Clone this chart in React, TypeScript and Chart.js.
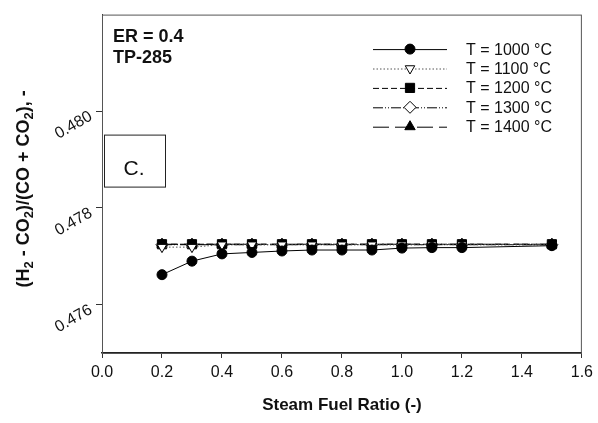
import React, { useEffect, useRef } from "react";
import { Chart, registerables } from "chart.js";
import { drawPoint } from "chart.js/helpers";

Chart.register(...registerables);

const steamFuelRatio = [0.2, 0.3, 0.4, 0.5, 0.6, 0.7, 0.8, 0.9, 1.0, 1.1, 1.2, 1.5];
const t1000 = [0.47662, 0.4769, 0.47705, 0.47708, 0.47711, 0.47713, 0.47713, 0.47713, 0.47717, 0.47718, 0.47718, 0.47722];
const t1100 = [0.47719, 0.47719, 0.47724, 0.47724, 0.47724, 0.47724, 0.47724, 0.47724, 0.47724, 0.47724, 0.47724, 0.47724];
const t1200 = [0.47725, 0.47725, 0.47725, 0.47725, 0.47725, 0.47725, 0.47725, 0.47725, 0.47725, 0.47725, 0.47725, 0.47725];
const t1300 = [0.47724, 0.47724, 0.47724, 0.47724, 0.47724, 0.47724, 0.47724, 0.47724, 0.47724, 0.47724, 0.47724, 0.47724];
const t1400 = [0.47725, 0.47725, 0.47725, 0.47725, 0.47725, 0.47725, 0.47725, 0.47725, 0.47725, 0.47725, 0.47725, 0.47725];
const seriesLabels = ["T = 1000 °C", "T = 1100 °C", "T = 1200 °C", "T = 1300 °C", "T = 1400 °C"];
const xTicks = [0, 0.2, 0.4, 0.6, 0.8, 1.0, 1.2, 1.4, 1.6];
const yTicks = [0.476, 0.478, 0.48];
const xTitle = "Steam Fuel Ratio (-)";
const yTitleParts: [string, boolean][] = [["(H", false], ["2", true], [" - CO", false], ["2", true], [")/(CO + CO", false], ["2", true], ["), -", false]];
const noteLines = ["ER = 0.4", "TP-285"];
const panelLabel = "C.";

const FONT = '"Liberation Sans", Arial, sans-serif';

const toXY = (ys: number[]) => ys.map((y, i) => ({ x: steamFuelRatio[i], y }));

const decorPlugin = {
  id: "decor",
  afterDatasetsDraw(chart: any) {
    const ctx = chart.ctx;
    const a = chart.chartArea;
    ctx.save();
    // frame
    ctx.strokeStyle = "#555";
    ctx.lineWidth = 1;
    ctx.strokeRect(a.left + 0.5, a.top + 0.5, a.right - a.left - 1, a.bottom - a.top);

    // notes
    ctx.fillStyle = "#111";
    ctx.font = `bold 18px ${FONT}`;
    ctx.textAlign = "left";
    ctx.textBaseline = "alphabetic";
    noteLines.forEach((t, i) => ctx.fillText(t, a.left + 11, a.top + 27 + i * 21.5));

    // panel label box
    ctx.fillStyle = "#fff";
    ctx.fillRect(a.left + 2, a.top + 120, 62, 53);
    ctx.strokeStyle = "#222";
    ctx.strokeRect(a.left + 2.5, a.top + 120.5, 61, 52);
    ctx.fillStyle = "#111";
    ctx.font = `21px ${FONT}`;
    ctx.textAlign = "center";
    ctx.textBaseline = "middle";
    ctx.fillText(panelLabel, a.left + 32, a.top + 155);

    // legend
    const ds = chart.data.datasets;
    ds.forEach((d: any, i: number) => {
      const y = a.top + 34.5 + i * 19.4;
      const x0 = a.left + 271, x1 = a.left + 345, xm = a.left + 308;
      ctx.save();
      ctx.strokeStyle = d.borderColor;
      ctx.lineWidth = d.borderWidth;
      ctx.setLineDash(d.borderDash || []);
      ctx.beginPath();
      ctx.moveTo(x0, y + 0.5);
      ctx.lineTo(x1, y + 0.5);
      ctx.stroke();
      ctx.restore();
      ctx.save();
      ctx.fillStyle = d.pointBackgroundColor;
      ctx.strokeStyle = d.pointBorderColor;
      ctx.lineWidth = 1;
      drawPoint(ctx, { pointStyle: d.pointStyle, radius: d.pointRadius, rotation: d.pointRotation || 0, borderWidth: 1 } as any, xm, y);
      ctx.restore();
      ctx.fillStyle = "#111";
      ctx.font = `16px ${FONT}`;
      ctx.textAlign = "left";
      ctx.textBaseline = "middle";
      ctx.fillText(seriesLabels[i], a.left + 364, y + 1);
    });

    // x title
    ctx.fillStyle = "#111";
    ctx.font = `bold 17px ${FONT}`;
    ctx.textAlign = "center";
    ctx.textBaseline = "middle";
    ctx.fillText(xTitle, (a.left + a.right) / 2, 405);

    // y title with subscripts
    const mainF = `bold 18px ${FONT}`;
    const subF = `bold 13px ${FONT}`;
    let total = 0;
    const widths = yTitleParts.map(([t, sub]) => {
      ctx.font = sub ? subF : mainF;
      const w = ctx.measureText(t).width;
      total += w;
      return w;
    });
    ctx.save();
    ctx.translate(24, (a.top + a.bottom) / 2 + 5);
    ctx.rotate(-Math.PI / 2);
    ctx.textAlign = "left";
    ctx.textBaseline = "middle";
    let cx = -total / 2;
    yTitleParts.forEach(([t, sub], i) => {
      ctx.font = sub ? subF : mainF;
      ctx.fillText(t, cx, sub ? 5 : 0);
      cx += widths[i];
    });
    ctx.restore();
    ctx.restore();
  },
};

export default function App() {
  const ref = useRef<HTMLCanvasElement | null>(null);
  useEffect(() => {
    document.body.style.margin = "0";
    if (!ref.current) return;
    const common = { borderColor: "#000", borderWidth: 1, pointBorderColor: "#000", pointBorderWidth: 1, showLine: true, fill: false, tension: 0 };
    const chart = new Chart(ref.current, {
      type: "scatter",
      data: {
        datasets: [
          { ...common, label: seriesLabels[0], data: toXY(t1000), pointStyle: "circle", pointRadius: 5, pointBackgroundColor: "#000", borderDash: [] },
          { ...common, label: seriesLabels[1], data: toXY(t1100), borderColor: "#555", pointStyle: "triangle", pointRotation: 180, pointRadius: 5.5, pointBackgroundColor: "#fff", borderDash: [1.5, 2] },
          { ...common, label: seriesLabels[2], data: toXY(t1200), pointStyle: "rect", pointRadius: 6.5, pointBackgroundColor: "#000", borderDash: [6, 3] },
          { ...common, label: seriesLabels[3], data: toXY(t1300), pointStyle: "rectRot", pointRadius: 6, pointBackgroundColor: "#fff", borderDash: [10, 2, 1, 2, 1, 2] },
          { ...common, label: seriesLabels[4], data: toXY(t1400), pointStyle: "triangle", pointRadius: 6, pointBackgroundColor: "#000", borderDash: [16, 6] },
        ] as any,
      },
      options: {
        animation: false,
        responsive: true,
        maintainAspectRatio: false,
        layout: { padding: { top: 9, right: 13, left: 0, bottom: 0 } },
        plugins: { legend: { display: false }, tooltip: { enabled: false } },
        scales: {
          x: {
            type: "linear",
            min: 0,
            max: 1.6,
            afterFit: (s: any) => { s.height = 70; },
            afterBuildTicks: (s: any) => { s.ticks = xTicks.map((v) => ({ value: v })); },
            grid: { display: true, drawOnChartArea: false, drawTicks: true, tickLength: 5, color: "#333" },
            border: { display: true, color: "#222", width: 1.5 },
            ticks: { padding: 5, color: "#111", font: { family: FONT, size: 16 }, callback: (v: any) => Number(v).toFixed(1), maxRotation: 0, minRotation: 0 },
          },
          y: {
            type: "linear",
            min: 0.475,
            max: 0.482,
            afterFit: (s: any) => { s.width = 102; },
            afterBuildTicks: (s: any) => { s.ticks = yTicks.map((v) => ({ value: v })); },
            grid: { display: true, drawOnChartArea: false, drawTicks: true, tickLength: 6, color: "#333" },
            border: { display: true, color: "#333", width: 1 },
            ticks: { padding: 5, labelOffset: 4, color: "#111", font: { family: FONT, size: 16 }, callback: (v: any) => Number(v).toFixed(3), minRotation: 30, maxRotation: 30 },
          },
        },
      } as any,
      plugins: [decorPlugin],
    });
    return () => chart.destroy();
  }, []);
  return (
    <div style={{ position: "fixed", left: 0, top: 0, width: 598, height: 423, background: "#fff" }}>
      <canvas ref={ref} />
    </div>
  );
}
